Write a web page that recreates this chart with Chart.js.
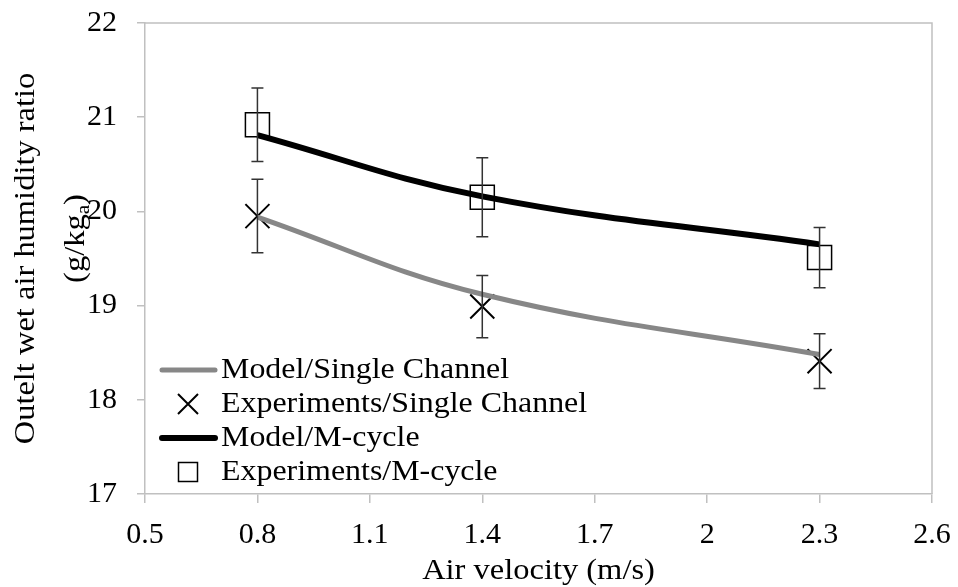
<!DOCTYPE html>
<html>
<head>
<meta charset="utf-8">
<script src="https://cdn.jsdelivr.net/npm/chart.js@4.4.0/dist/chart.umd.min.js"></script>
<style>
  html, body { margin: 0; padding: 0; background: #fff; }
  #wrap { width: 958px; height: 587px; position: relative; }
</style>
</head>
<body>
<div id="wrap"><canvas id="chart"></canvas></div>
<script>
// valeurs
const vitesses = [0.8, 1.4, 2.3];
const modeleSimple = [19.94, 19.12, 18.48];
const expSimple = [19.95, 18.99, 18.41];
const errSimple = [0.39, 0.33, 0.29];
const modeleMcycle = [20.81, 20.16, 19.65];
const expMcycle = [20.92, 20.15, 19.51];
const errMcycle = [0.39, 0.42, 0.32];
const xTicks = [0.5, 0.8, 1.1, 1.4, 1.7, 2, 2.3, 2.6];
const xTickLabels = ['0.5', '0.8', '1.1', '1.4', '1.7', '2', '2.3', '2.6'];
const yTicks = [17, 18, 19, 20, 21, 22];
const legendLabels = ['Model/Single Channel', 'Experiments/Single Channel', 'Model/M-cycle', 'Experiments/M-cycle'];

const FONT = "'Liberation Serif', 'Times New Roman', serif";
const STRETCH = 1.12; // le texte d'origine est plus large
const pts = vals => vitesses.map((x, i) => ({ x, y: vals[i] }));

// texte élargi horizontalement (dans le repère courant)
function wideText(ctx, txt, x, y, size, align) {
  ctx.save();
  ctx.font = size + 'px ' + FONT;
  const w = ctx.measureText(txt).width * STRETCH;
  let x0 = x;
  if (align === 'center') x0 = x - w / 2;
  ctx.translate(x0, y);
  ctx.scale(STRETCH, 1);
  ctx.textAlign = 'left';
  ctx.fillText(txt, 0, 0);
  ctx.restore();
  return w;
}

// barres d'erreur + cadre + légende + titres
const extras = {
  id: 'extras',
  afterDatasetsDraw(chart) {
    const { ctx, scales: { x, y }, chartArea: a } = chart;
    ctx.save();
    // cadre gris
    ctx.strokeStyle = '#c0c0c0';
    ctx.lineWidth = 1.5;
    ctx.beginPath();
    ctx.moveTo(a.left, a.top); ctx.lineTo(a.right, a.top); ctx.lineTo(a.right, a.bottom);
    ctx.stroke();

    // barres d'erreur
    ctx.strokeStyle = '#333';
    ctx.lineWidth = 1.5;
    [[expSimple, errSimple], [expMcycle, errMcycle]].forEach(([vals, errs]) => {
      vals.forEach((v, i) => {
        const px = x.getPixelForValue(vitesses[i]);
        const top = y.getPixelForValue(v + errs[i]);
        const bot = y.getPixelForValue(v - errs[i]);
        ctx.beginPath();
        ctx.moveTo(px, top); ctx.lineTo(px, bot);
        ctx.moveTo(px - 6, top); ctx.lineTo(px + 6, top);
        ctx.moveTo(px - 6, bot); ctx.lineTo(px + 6, bot);
        ctx.stroke();
      });
    });

    // légende
    const lx = a.left + 17, ly0 = a.bottom - 124, step = 34;
    ctx.fillStyle = '#000';
    ctx.textBaseline = 'middle';
    legendLabels.forEach((lab, i) => {
      const yy = ly0 + i * step;
      if (i === 0 || i === 2) {
        ctx.strokeStyle = i === 0 ? '#878787' : '#000';
        ctx.lineWidth = i === 0 ? 5 : 6;
        ctx.lineCap = 'round';
        ctx.beginPath(); ctx.moveTo(lx, yy); ctx.lineTo(lx + 53, yy); ctx.stroke();
      } else if (i === 1) {
        ctx.strokeStyle = '#000'; ctx.lineWidth = 2; ctx.lineCap = 'butt';
        ctx.beginPath();
        ctx.moveTo(lx + 16, yy - 10); ctx.lineTo(lx + 36, yy + 10);
        ctx.moveTo(lx + 36, yy - 10); ctx.lineTo(lx + 16, yy + 10);
        ctx.stroke();
      } else {
        ctx.strokeStyle = '#000'; ctx.lineWidth = 1.5;
        ctx.strokeRect(lx + 16.5, yy - 9.5, 19, 19);
      }
      wideText(ctx, lab, lx + 59, yy + 1, 28.5, 'left');
    });

    // titre axe X
    wideText(ctx, 'Air velocity (m/s)', (a.left + a.right) / 2, 571, 29, 'center');

    // titre axe Y (deux lignes, indice a)
    const cy = (a.top + a.bottom) / 2;
    ctx.save();
    ctx.translate(26, cy);
    ctx.rotate(-Math.PI / 2);
    wideText(ctx, 'Outelt wet air humidity ratio', 0, 0, 29, 'center');
    ctx.restore();

    ctx.save();
    ctx.translate(76, cy - 20);
    ctx.rotate(-Math.PI / 2);
    ctx.font = '29px ' + FONT;
    const w1 = ctx.measureText('(g/kg').width * STRETCH;
    const w3 = ctx.measureText(')').width * STRETCH;
    ctx.font = '19px ' + FONT;
    const wSub = ctx.measureText('a').width * STRETCH;
    const sx = -(w1 + wSub + w3) / 2;
    wideText(ctx, '(g/kg', sx, 0, 29, 'left');
    wideText(ctx, 'a', sx + w1, 8, 19, 'left');
    wideText(ctx, ')', sx + w1 + wSub, 0, 29, 'left');
    ctx.restore();

    ctx.restore();
  }
};

const ctx = document.getElementById('chart').getContext('2d');
new Chart(ctx, {
  type: 'line',
  data: {
    datasets: [
      {
        label: legendLabels[0],
        data: pts(modeleSimple),
        borderColor: '#878787',
        borderWidth: 5,
        pointRadius: 0,
        tension: 0.4,
        fill: false
      },
      {
        label: legendLabels[1],
        data: pts(expSimple),
        showLine: false,
        pointStyle: 'crossRot',
        pointRadius: 17,
        borderColor: '#000',
        borderWidth: 2
      },
      {
        label: legendLabels[2],
        data: pts(modeleMcycle),
        borderColor: '#000',
        borderWidth: 6,
        pointRadius: 0,
        tension: 0.4,
        fill: false
      },
      {
        label: legendLabels[3],
        data: pts(expMcycle),
        showLine: false,
        pointStyle: 'rect',
        pointRadius: 17,
        backgroundColor: 'rgba(0,0,0,0)',
        borderColor: '#000',
        borderWidth: 1.5
      }
    ]
  },
  options: {
    responsive: true,
    maintainAspectRatio: false,
    animation: false,
    layout: { padding: { top: 23, right: 26, left: 0, bottom: 0 } },
    plugins: { legend: { display: false }, tooltip: { enabled: false } },
    scales: {
      x: {
        type: 'linear',
        min: 0.5,
        max: 2.6,
        afterBuildTicks: s => { s.ticks = xTicks.map(v => ({ value: v })); },
        afterFit: s => { s.height = 93; s.paddingLeft = 0; s.paddingRight = 0; },
        grid: { drawOnChartArea: false, color: '#c0c0c0', tickLength: 9, lineWidth: 1.5 },
        border: { color: '#c0c0c0', width: 1.5 },
        ticks: {
          color: '#000', font: { family: FONT, size: 30 }, padding: 14, maxRotation: 0,
          callback: (v, i) => xTickLabels[i]
        }
      },
      y: {
        min: 17,
        max: 22,
        afterBuildTicks: s => { s.ticks = yTicks.map(v => ({ value: v })); },
        afterFit: s => { s.width = 145; s.paddingTop = 0; s.paddingBottom = 0; },
        grid: { drawOnChartArea: false, color: '#c0c0c0', tickLength: 8, lineWidth: 1.5 },
        border: { color: '#c0c0c0', width: 1.5 },
        ticks: { color: '#000', font: { family: FONT, size: 30 }, padding: 20 }
      }
    }
  },
  plugins: [extras]
});
</script>
</body>
</html>
